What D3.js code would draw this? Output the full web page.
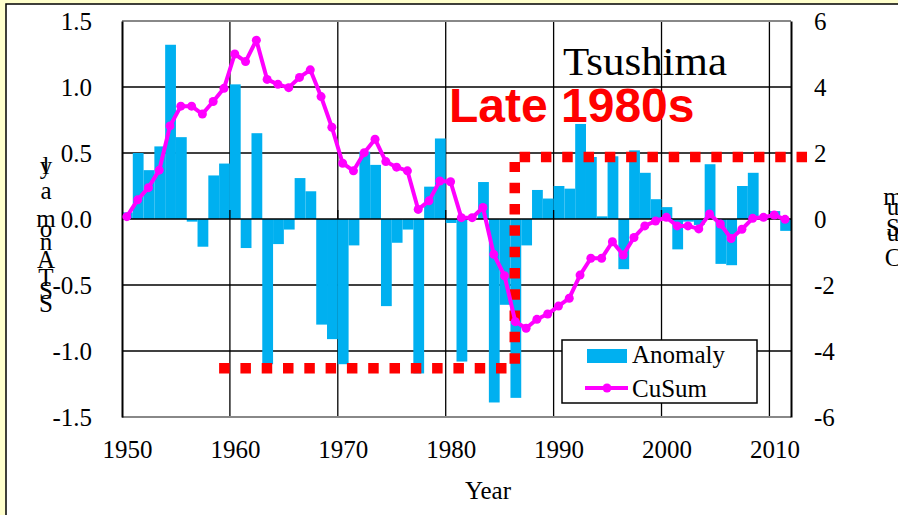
<!DOCTYPE html>
<html>
<head>
<meta charset="utf-8">
<script src="https://cdn.jsdelivr.net/npm/d3@7"></script>
<style>
  html, body { margin: 0; padding: 0; background: #FFFFCC; overflow: hidden; }
  svg { display: block; }
</style>
</head>
<body>
<svg id="chart" width="898" height="515"></svg>
<script>
// ---- data ----
const years = d3.range(1950, 2012);
const anomaly = [
  0.05, 0.50, 0.37, 0.55, 1.32, 0.62, -0.02, -0.21, 0.33, 0.42,
  1.02, -0.22, 0.65, -1.10, -0.19, -0.08, 0.31, 0.21, -0.80, -0.91,
  -1.10, -0.20, 0.51, 0.41, -0.66, -0.18, -0.08, -1.17, 0.245, 0.61,
  -0.03, -1.08, 0.00, 0.28, -1.39, -0.65, -1.355, -0.20, 0.22, 0.155,
  0.25, 0.23, 0.72, 0.47, 0.02, 0.475, -0.38, 0.52, 0.35, 0.15,
  0.09, -0.23, -0.02, -0.045, 0.415, -0.34, -0.35, 0.25, 0.35, 0.02,
  0.06, -0.09
];
const cusum = [
  0.07, 0.58, 0.95, 1.48, 2.82, 3.42, 3.42, 3.18, 3.56, 3.96,
  5.00, 4.77, 5.42, 4.23, 4.08, 3.98, 4.29, 4.52, 3.71, 2.78,
  1.69, 1.46, 2.01, 2.42, 1.74, 1.57, 1.46, 0.29, 0.55, 1.15,
  1.13, 0.04, 0.04, 0.35, -1.07, -1.72, -3.11, -3.31, -3.04, -2.88,
  -2.64, -2.40, -1.70, -1.19, -1.19, -0.69, -1.09, -0.56, -0.21, -0.06,
  0.05, -0.21, -0.21, -0.30, 0.15, -0.15, -0.59, -0.31, 0.02, 0.05,
  0.12, -0.01
];
const leftTicks = [1.5, 1.0, 0.5, 0.0, -0.5, -1.0, -1.5];
const rightTicks = [6, 4, 2, 0, -2, -4, -6];
const xTicks = [1950, 1960, 1970, 1980, 1990, 2000, 2010];
// regime-shift guide (left-axis units)
const regimeYears = [1959, 1985.65, 1986.4, 1986.85, 2013.7];
const regimeLevels = [-1.13, 0.47];
const title = "Tsushima";
const annotation = "Late 1980s";
const leftTitle = ["S","S","T","A","n","o","m","a","l","y"];
const leftTitleBase = [312, 299, 286, 268, 250, 237, 227, 199, 174, 174];
const rightTitle = ["C","u","S","u","m"];
const rightTitleBase = [266, 241, 236, 215, 205];

// ---- layout ----
const svg = d3.select("#chart");
const serif = "'Liberation Serif', 'Times New Roman', serif";
const L = 122, R = 791, T = 21, B = 417;

const x = d3.scaleLinear().domain([1950, 2012]).range([L, R]);
const yL = d3.scaleLinear().domain([-1.5, 1.5]).range([B, T]);
const yR = d3.scaleLinear().domain([-6, 6]).range([B, T]);

// frame
svg.append("rect").attr("x", 6).attr("y", 4).attr("width", 1000).attr("height", 600)
  .attr("fill", "#ffffff").attr("stroke", "#000").attr("stroke-width", 1.5);

const g = svg.append("g");

// gridlines (under bars)
g.selectAll(".hg").data(leftTicks.filter(d => Math.abs(d) < 1.5 && d !== 0)).enter()
  .append("line").attr("x1", L).attr("x2", R)
  .attr("y1", d => yL(d)).attr("y2", d => yL(d))
  .attr("stroke", "#000").attr("stroke-width", 1.3);
g.selectAll(".vg").data(xTicks.filter(d => d > 1950)).enter()
  .append("line").attr("x1", d => x(d)).attr("x2", d => x(d))
  .attr("y1", T).attr("y2", B)
  .attr("stroke", "#000").attr("stroke-width", 1.3);

// bars
g.selectAll(".bar").data(years).enter().append("rect")
  .attr("x", d => x(d))
  .attr("width", d => x(d + 1) - x(d))
  .attr("y", (d, i) => yL(Math.max(0, anomaly[i])))
  .attr("height", (d, i) => Math.abs(yL(anomaly[i]) - yL(0)))
  .attr("fill", "#00B0F0");

// zero axis line with ticks
g.append("line").attr("x1", L).attr("x2", R).attr("y1", yL(0)).attr("y2", yL(0))
  .attr("stroke", "#000").attr("stroke-width", 1.3);
g.selectAll(".zt").data(xTicks.filter(d => d > 1950)).enter()
  .append("line").attr("x1", d => x(d)).attr("x2", d => x(d))
  .attr("y1", yL(0) - 9).attr("y2", yL(0))
  .attr("stroke", "#000").attr("stroke-width", 1.3);

// plot border: top/bottom gray, left/right black axes
g.append("line").attr("x1", L).attr("x2", R).attr("y1", T).attr("y2", T)
  .attr("stroke", "#888").attr("stroke-width", 2.2);
g.append("line").attr("x1", L).attr("x2", R).attr("y1", B).attr("y2", B)
  .attr("stroke", "#888").attr("stroke-width", 2.2);

// left axis
const axL = d3.axisLeft(yL).tickValues(leftTicks).tickSize(0).tickPadding(30)
  .tickFormat(d3.format(".1f"));
const gL = svg.append("g").attr("transform", `translate(${L},0)`).call(axL);
gL.select(".domain").attr("stroke", "#000").attr("stroke-width", 2);
gL.selectAll("text").attr("font-family", serif).attr("font-size", 25).attr("fill", "#000")
  .text(d => d3.format(".1f")(d).replace("−", "-"));

// right axis
const axR = d3.axisRight(yR).tickValues(rightTicks).tickSize(0).tickPadding(23)
  .tickFormat(d => String(d));
const gR = svg.append("g").attr("transform", `translate(${R},0)`).call(axR);
gR.select(".domain").attr("stroke", "#000").attr("stroke-width", 2);
gR.selectAll("text").attr("font-family", serif).attr("font-size", 25).attr("fill", "#000");

// bottom axis labels
const axB = d3.axisBottom(x).tickValues(xTicks).tickSize(0).tickPadding(0).tickFormat(d3.format("d"));
const gB = svg.append("g").attr("transform", `translate(5,${B})`).call(axB);
gB.select(".domain").remove();
gB.selectAll("text").attr("font-family", serif).attr("font-size", 25).attr("fill", "#000")
  .attr("dy", null).attr("y", 41);

// axis titles
svg.append("text").attr("x", 488).attr("y", 499).attr("text-anchor", "middle")
  .attr("font-family", serif).attr("font-size", 25).text("Year");
svg.selectAll(".lt").data(leftTitle).enter().append("text")
  .attr("x", 46).attr("y", (d, i) => leftTitleBase[i]).attr("text-anchor", "middle")
  .attr("font-family", serif).attr("font-size", 25).text(d => d);
svg.selectAll(".rt").data(rightTitle).enter().append("text")
  .attr("x", 893).attr("y", (d, i) => rightTitleBase[i]).attr("text-anchor", "middle")
  .attr("font-family", serif).attr("font-size", 25).text(d => d);

// regime guide (red dotted)
const redDash = "10.5,10.8";
const red = svg.append("g").attr("stroke", "#FF0000").attr("stroke-width", 10.5)
  .attr("stroke-dasharray", redDash).attr("fill", "none");
red.append("line").attr("x1", x(regimeYears[0])).attr("x2", x(regimeYears[1]))
  .attr("y1", yL(regimeLevels[0])).attr("y2", yL(regimeLevels[0]));
red.append("line").attr("x1", x(regimeYears[2])).attr("x2", x(regimeYears[2]))
  .attr("y1", yL(regimeLevels[0]) - 4.5).attr("y2", yL(regimeLevels[1]) + 5);
red.append("line").attr("x1", x(regimeYears[3])).attr("x2", x(regimeYears[4]))
  .attr("y1", yL(regimeLevels[1])).attr("y2", yL(regimeLevels[1]));

// CuSum line
const line = d3.line().x((d, i) => x(years[i] + 0.45)).y(d => yR(d));
svg.append("path").datum(cusum).attr("d", line)
  .attr("fill", "none").attr("stroke", "#FF00FF").attr("stroke-width", 4)
  .attr("stroke-linejoin", "round");
svg.selectAll(".pt").data(cusum).enter().append("circle")
  .attr("cx", (d, i) => x(years[i] + 0.45)).attr("cy", d => yR(d)).attr("r", 4.5)
  .attr("fill", "#FF00FF");

// titles
svg.append("text").attr("x", 563).attr("y", 75).attr("font-family", serif)
  .attr("font-size", 40).attr("textLength", 164).attr("lengthAdjust", "spacingAndGlyphs")
  .text(title);
svg.append("text").attr("x", 449).attr("y", 122)
  .attr("font-family", "'Liberation Sans', Arial, sans-serif").attr("font-weight", "bold")
  .attr("font-size", 48).attr("fill", "#FF0000").text(annotation);

// legend
const lg = svg.append("g");
lg.append("rect").attr("x", 562).attr("y", 340).attr("width", 195).attr("height", 63)
  .attr("fill", "#fff").attr("stroke", "#000").attr("stroke-width", 1.5);
lg.append("rect").attr("x", 587).attr("y", 349).attr("width", 40).attr("height", 14)
  .attr("fill", "#00B0F0");
lg.append("text").attr("x", 632).attr("y", 363).attr("font-family", serif)
  .attr("font-size", 25).text("Anomaly");
lg.append("line").attr("x1", 585).attr("x2", 628).attr("y1", 388).attr("y2", 388)
  .attr("stroke", "#FF00FF").attr("stroke-width", 4);
lg.append("circle").attr("cx", 607).attr("cy", 388).attr("r", 4.5).attr("fill", "#FF00FF");
lg.append("text").attr("x", 632).attr("y", 397).attr("font-family", serif)
  .attr("font-size", 25).text("CuSum");
</script>
</body>
</html>
